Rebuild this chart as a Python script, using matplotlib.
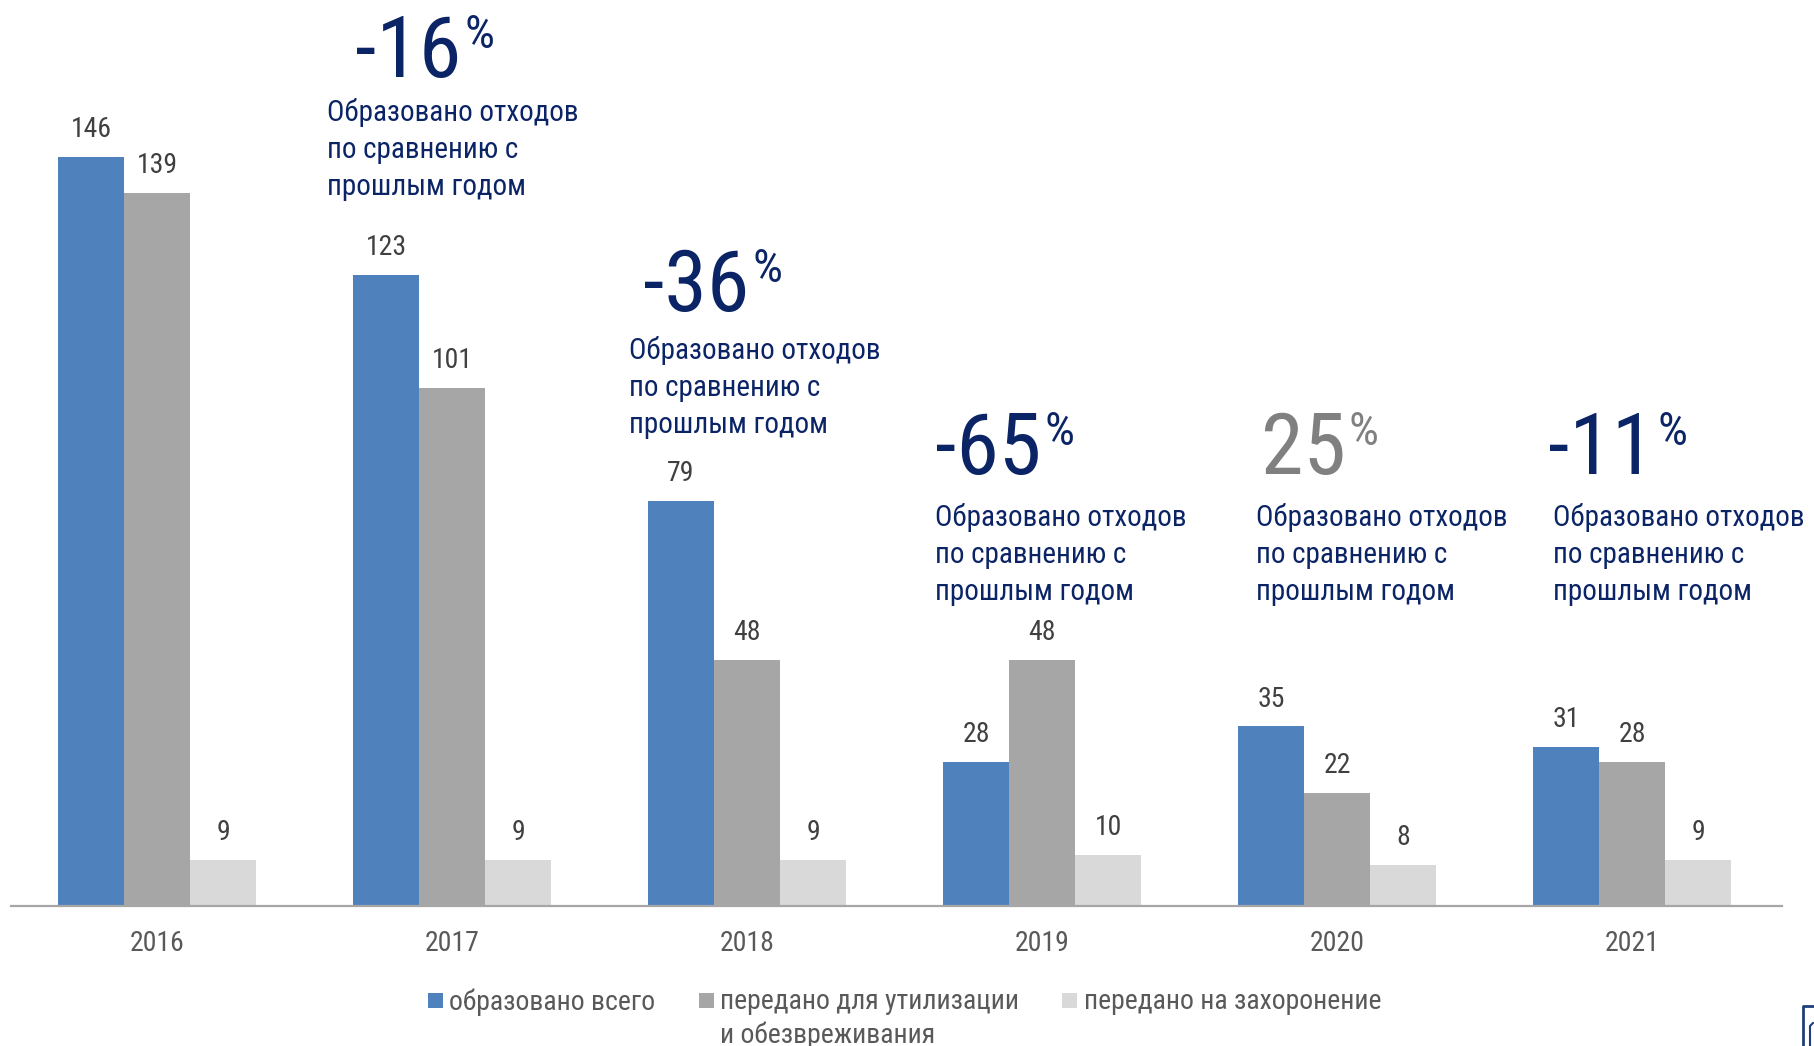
import matplotlib
matplotlib.use("Agg")
import matplotlib.pyplot as plt
from matplotlib.patches import Rectangle
from matplotlib.lines import Line2D

plt.rcParams['font.family'] = ['Roboto Condensed', 'DejaVu Sans']

# --- data -------------------------------------------------------------
years = ["2016", "2017", "2018", "2019", "2020", "2021"]
generated = [146, 123, 79, 28, 35, 31]          # образовано всего
recycled = [139, 101, 48, 48, 22, 28]           # передано для утилизации и обезвреживания
landfilled = [9, 9, 9, 10, 8, 9]                # передано на захоронение
series_labels = ["образовано всего",
                 "передано для утилизации\nи обезвреживания",
                 "передано на захоронение"]

# --- style ------------------------------------------------------------
C_BLUE = "#4F81BD"
C_GRAY = "#A6A6A6"
C_LIGHT = "#D9D9D9"
C_NAVY = "#0B2466"
C_PCT_POS = "#808080"
C_VAL = "#404040"
C_TICK = "#595959"

W, H, DPI = 1814, 1046, 100
fig = plt.figure(figsize=(W / DPI, H / DPI), dpi=DPI)
ax = fig.add_axes([11 / W, 1 - 906 / H, (1782 - 11) / W, 906 / H])

bw = 0.224
x = list(range(len(years)))
groups = [(generated, C_BLUE, -bw), (recycled, C_GRAY, 0.0), (landfilled, C_LIGHT, bw)]
for vals, col, off in groups:
    bars = ax.bar([i + off for i in x], vals, width=bw, color=col, linewidth=0)
    for b, v in zip(bars, vals):
        ax.annotate(str(v), (b.get_x() + b.get_width() / 2, v),
                    xytext=(0, 10), textcoords="offset points",
                    ha="center", va="bottom", fontsize=20, color=C_VAL)

ax.set_xlim(-0.495, 5.508)
ax.set_ylim(0, 176.6)
ax.set_xticks(x)
ax.set_xticklabels(years, fontsize=20, color=C_TICK)
ax.tick_params(axis="x", length=0, pad=17)
ax.set_yticks([])
for s in ("left", "right", "top"):
    ax.spines[s].set_visible(False)
ax.spines["bottom"].set_color("#A6A6A6")
ax.spines["bottom"].set_linewidth(1.6)

# --- year-over-year change callouts ------------------------------------
# (number x offset, number baseline, text x offset, text top) per year 2017..2021
callout_layout = [
    (-0.329, 161.6, -0.424, 157.5),
    (-0.353, 116.0, -0.400, 111.2),
    (-0.363, 84.2, -0.363, 78.5),
    (-0.258, 84.2, -0.275, 78.5),
    (-0.285, 84.2, -0.268, 78.5),
]
desc = "Образовано отходов\nпо сравнению с\nпрошлым годом"
for i in range(1, len(years)):
    pct = round((generated[i] / generated[i - 1] - 1) * 100)
    nx, ny, tx, ty = callout_layout[i - 1]
    col = C_NAVY if pct < 0 else C_PCT_POS
    num = ax.text(i + nx, ny, f"{pct}", fontsize=62, color=col,
                  ha="left", va="baseline", clip_on=False)
    ax.annotate("%", xy=(1, 1), xycoords=num, xytext=(2, 0),
                textcoords="offset points", fontsize=34, color=col,
                ha="left", va="top")
    ax.text(i + tx, ty, desc, fontsize=21, color=C_NAVY, ha="left", va="top",
            linespacing=1.41, clip_on=False)

# --- legend ------------------------------------------------------------
leg_items = [(428, 449, C_BLUE), (699, 720, C_GRAY), (1062, 1084, C_LIGHT)]
for (sq_x, tx_x, col), lab in zip(leg_items, series_labels):
    fig.patches.append(Rectangle((sq_x / W, 1 - 1008 / H), 15 / W, 15 / H,
                                 transform=fig.transFigure, color=col, linewidth=0))
    fig.text(tx_x / W, 1 - 988 / H, lab, fontsize=20, color=C_TICK,
             ha="left", va="top", linespacing=1.3)

# corner logo fragment
fig.lines.append(Line2D([1803 / W, 1803 / W, 1814 / W], [0, 1 - 1006 / H, 1 - 1006 / H],
                        transform=fig.transFigure, color="#1F3F7A", linewidth=2))
fig.lines.append(Line2D([1813 / W, 1810 / W, 1810 / W], [1 - 1023 / H, 1 - 1026 / H, 0],
                        transform=fig.transFigure, color="#1F3F7A", linewidth=1.5))

fig.savefig("out.png", dpi=DPI)
